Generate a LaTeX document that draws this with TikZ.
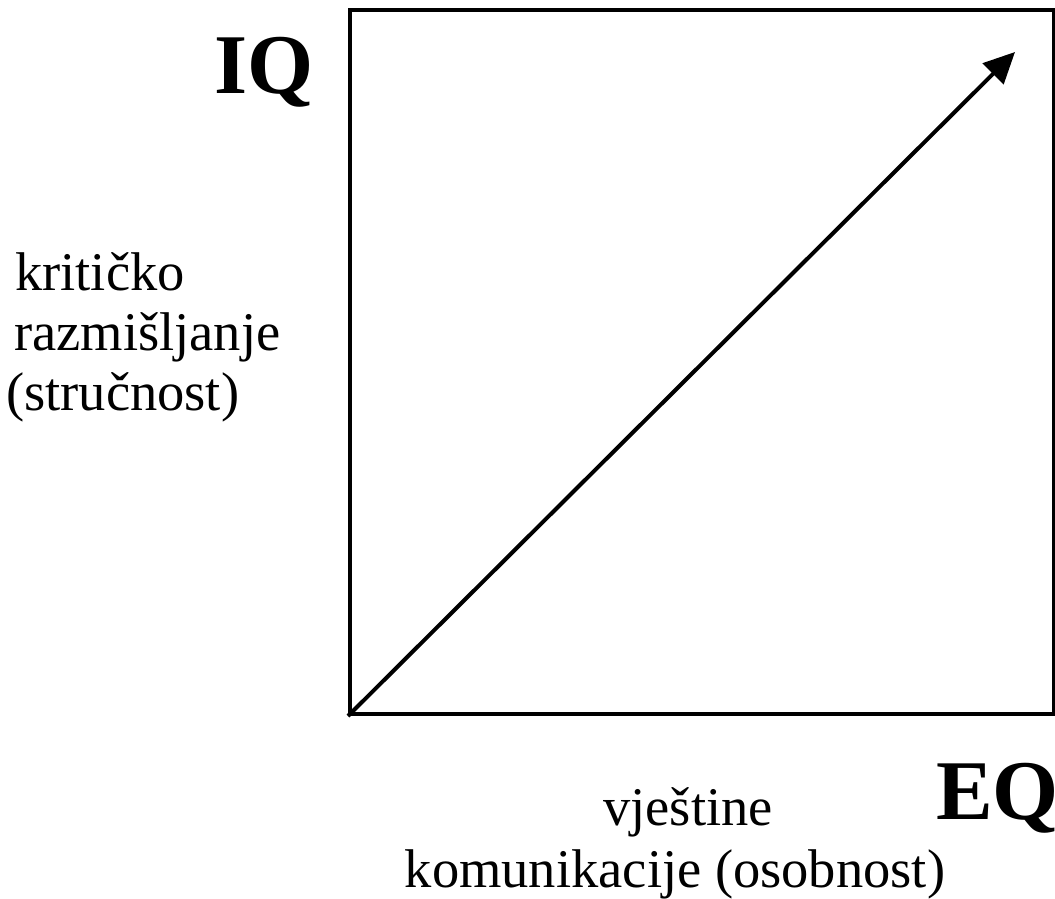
\documentclass[tikz,border=0pt]{standalone}
\usepackage{fontspec}
\setmainfont{Liberation Serif}
\usetikzlibrary{arrows.meta}
\begin{document}
\begin{tikzpicture}[x=1pt,y=-1pt,
  body/.style={inner sep=0pt,font=\fontsize{54.5}{60}\selectfont},
  big/.style={inner sep=0pt,font=\fontsize{85}{90}\selectfont\bfseries},
  frame/.style={line width=4pt},
  arr/.style={line width=4pt,-{Triangle[length=31pt,width=29pt]}}]
\useasboundingbox (0,0) rectangle (1055,899);
\node[draw,frame,minimum width=704pt,minimum height=704pt,inner sep=0pt,anchor=south west] (box) at (348,716) {};
\coordinate (origin) at (348,716);
\coordinate (tip) at (1015,52);
\draw[arr] (origin) -- (tip);
\node[big,anchor=base west] (iq) at (214,93) {IQ};
\node[big,anchor=base west] (eq) at (936,819) {EQ};
\node[body,anchor=base west] (l1) at (15,290) {kritičko};
\node[body,anchor=base west] (l2) at (14,350) {razmišljanje};
\node[body,anchor=base west] (l3) at (6,410) {(stručnost)};
\node[body,anchor=base] (b1) at (688,825) {vještine};
\node[body,anchor=base] (b2) at (675,887) {komunikacije (osobnost)};
\end{tikzpicture}
\end{document}
